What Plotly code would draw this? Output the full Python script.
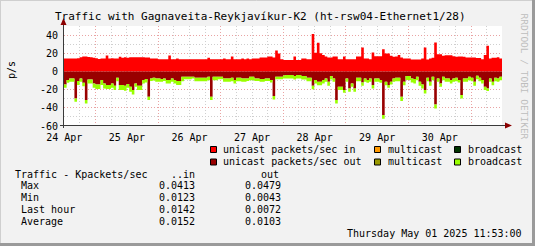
import plotly.graph_objects as go
import pandas as pd

# ---------------- data (hourly, packets/sec) ----------------
START = "2025-04-24 11:53"
END = "2025-05-01 11:53"

unicast_in = [
    14.3, 14.3, 14.3, 14.3, 14.3, 14.5, 15.5, 16.5, 16.5, 16.0,
    15.5, 15.2, 14.5, 13.8, 14.3, 14.3, 17.5, 14.3, 14.5, 14.3,
    14.3, 16.3, 15.0, 15.7, 15.0, 15.5, 15.5, 15.5, 15.7, 15.5,
    15.5, 15.3, 15.3, 14.3, 14.3, 14.3, 13.3, 13.3, 13.3, 13.3,
    17.5, 13.3, 13.5, 14.3, 13.5, 13.5, 13.5, 13.5, 13.5, 13.5,
    13.5, 13.5, 13.5, 13.5, 13.5, 15.0, 13.5, 13.5, 13.5, 13.5,
    13.5, 14.3, 13.5, 13.5, 16.5, 13.5, 13.5, 13.5, 14.3, 13.5,
    14.3, 13.5, 14.3, 14.3, 14.3, 15.4, 15.4, 15.4, 16.5, 16.5,
    15.4, 23.0, 19.8, 13.5, 12.5, 12.5, 12.5, 12.5, 16.5, 12.5,
    12.5, 14.3, 14.3, 13.5, 13.5, 41.3, 20.5, 31.5, 20.0, 18.0,
    16.5, 15.4, 15.4, 16.5, 16.5, 13.5, 13.5, 16.5, 13.5, 13.5,
    13.5, 13.5, 16.5, 16.5, 26.4, 14.3, 14.3, 13.5, 20.9, 16.8,
    16.8, 16.8, 24.5, 19.8, 19.8, 17.2, 16.1, 16.5, 18.0, 15.4,
    14.3, 14.3, 14.3, 13.2, 13.2, 13.2, 13.2, 14.3, 26.4, 13.2,
    14.3, 15.0, 31.9, 19.0, 19.0, 17.2, 17.9, 17.9, 17.9, 16.8,
    16.1, 16.5, 16.5, 16.1, 15.4, 15.4, 15.4, 15.4, 14.7, 14.7,
    13.5, 18.0, 28.2, 14.3, 15.0, 15.0, 15.7, 14.3,
]

unicast_out = [
    14.3, 9.5, 7.7, 7.7, 29.7, 10.6, 7.7, 12.5, 31.5, 8.8,
    8.8, 13.2, 14.3, 14.3, 9.5, 13.2, 15.0, 15.0, 13.2, 15.7,
    7.0, 15.0, 15.0, 15.7, 13.9, 16.8, 20.5, 13.2, 15.7, 15.7,
    9.5, 8.4, 27.8, 7.7, 7.0, 7.7, 7.7, 8.4, 7.7, 9.5,
    9.5, 7.7, 9.5, 10.6, 10.6, 5.9, 5.9, 5.9, 5.9, 5.9,
    7.0, 7.0, 7.0, 7.0, 7.0, 5.9, 27.8, 5.9, 5.9, 5.9,
    5.9, 7.7, 7.7, 7.7, 7.0, 9.5, 7.0, 7.0, 7.7, 7.7,
    7.7, 5.9, 5.9, 7.7, 7.7, 8.4, 8.4, 7.7, 7.7, 9.5,
    27.1, 5.9, 5.9, 5.9, 4.4, 4.0, 4.0, 4.0, 5.1, 4.0,
    4.0, 5.1, 5.1, 7.0, 7.0, 15.8, 9.5, 11.4, 11.4, 9.5,
    7.7, 11.4, 5.1, 7.7, 31.5, 16.8, 16.8, 20.5, 7.7, 18.7,
    13.2, 18.7, 7.0, 7.0, 12.1, 7.7, 9.5, 7.7, 15.0, 7.7,
    7.7, 9.5, 48.0, 11.4, 15.0, 11.4, 7.7, 7.0, 7.0, 27.8,
    11.4, 5.1, 5.1, 7.7, 8.4, 5.9, 11.4, 14.3, 20.5, 7.0,
    11.4, 5.9, 36.3, 7.7, 13.2, 5.9, 7.7, 7.7, 9.5, 7.7,
    7.0, 9.5, 26.0, 7.7, 7.7, 5.9, 7.0, 11.4, 4.8, 7.0,
    9.5, 16.8, 18.7, 7.7, 11.4, 7.0, 7.7, 5.9,
]

broadcast_out = [
    3.7, 2.9, 3.7, 3.7, 3.7, 4.4, 3.7, 3.7, 3.7, 4.4,
    4.4, 4.8, 5.1, 5.1, 5.5, 5.5, 4.4, 4.4, 4.8, 4.8,
    3.7, 5.5, 5.5, 5.5, 4.0, 5.5, 4.8, 3.7, 4.8, 4.8,
    3.7, 3.7, 3.7, 2.9, 2.9, 3.7, 3.7, 2.9, 2.9, 3.7,
    3.7, 3.7, 3.7, 4.4, 4.4, 4.8, 2.6, 2.6, 2.6, 1.8,
    3.7, 3.7, 3.7, 3.7, 3.7, 3.7, 3.7, 3.7, 3.7, 2.6,
    2.6, 3.7, 3.7, 3.7, 3.7, 3.7, 3.7, 3.7, 3.7, 3.7,
    2.9, 3.7, 3.7, 2.9, 2.9, 2.9, 2.9, 2.9, 2.9, 2.6,
    3.7, 2.6, 2.6, 2.6, 3.3, 3.7, 3.7, 3.7, 3.7, 3.7,
    3.7, 3.7, 3.7, 3.7, 3.7, 3.7, 3.7, 3.7, 3.7, 3.7,
    3.7, 4.4, 3.7, 3.7, 3.7, 3.7, 3.7, 2.9, 3.7, 3.7,
    3.7, 3.7, 3.7, 3.7, 3.7, 3.7, 2.9, 3.7, 3.7, 3.7,
    3.7, 2.9, 4.0, 3.7, 2.9, 2.9, 3.7, 3.7, 3.7, 4.8,
    3.7, 4.4, 4.4, 4.4, 4.8, 3.7, 4.4, 4.4, 3.7, 3.7,
    4.4, 3.7, 4.4, 3.7, 3.7, 3.7, 3.7, 3.7, 3.7, 3.7,
    3.7, 2.6, 3.7, 3.7, 3.7, 3.7, 3.7, 4.4, 3.7, 3.7,
    3.7, 3.7, 2.9, 3.7, 3.7, 3.7, 3.7, 3.7,
]

y_ticks = [-60, -40, -20, 0, 20, 40]
x_tick_days = ["2025-04-24", "2025-04-25", "2025-04-26", "2025-04-27",
               "2025-04-28", "2025-04-29", "2025-04-30"]
x_tick_labels = ["24 Apr", "25 Apr", "26 Apr", "27 Apr", "28 Apr", "29 Apr", "30 Apr"]

legend_labels = ["unicast packets/sec in", "multicast", "broadcast",
                 "unicast packets/sec out", "multicast", "broadcast"]

stat_names = ["Max", "Min", "Last hour", "Average"]
stat_in = ["0.0413", "0.0123", "0.0142", "0.0152"]
stat_out = ["0.0479", "0.0043", "0.0072", "0.0103"]

TITLE = "Traffic with Gagnaveita-Reykjavíkur-K2 (ht-rsw04-Ethernet1/28)"
STAMP = "Thursday May 01 2025 11:53:00"

# ---------------- styles ----------------
FONT = "DejaVu Sans Mono"
C_UI, C_MI, C_BI = "#FF0000", "#FF9900", "#003300"
C_UO, C_MO, C_BO = "#990000", "#999900", "#99FF00"
legend_colors = [C_UI, C_MI, C_BI, C_UO, C_MO, C_BO]

W, H = 535, 246
L, R, T, B = 64, 33, 26, 120
PW, PH = W - L - R, H - T - B


def px(x):
    return (x - L) / PW


def py(y):
    return (T + PH - y) / PH


times = pd.date_range(START, periods=len(unicast_in) + 1, freq="h")
label_times = [pd.Timestamp(d) + pd.Timedelta(hours=12) for d in x_tick_days]


def ext(v):
    return list(v) + [v[-1]]


fig = go.Figure()
fig.add_trace(go.Scatter(x=times, y=ext(unicast_in), stackgroup="in", mode="lines",
                         line=dict(width=0, shape="hv"), fillcolor=C_UI, hoverinfo="skip"))
fig.add_trace(go.Scatter(x=times, y=[-v for v in ext(unicast_out)], stackgroup="out", mode="lines",
                         line=dict(width=0, shape="hv"), fillcolor=C_UO, hoverinfo="skip"))
fig.add_trace(go.Scatter(x=times, y=[-v for v in ext(broadcast_out)], stackgroup="out", mode="lines",
                         line=dict(width=0, shape="hv"), fillcolor=C_BO, hoverinfo="skip"))
# carrier trace for the label axis
fig.add_trace(go.Scatter(x=[times[0]], y=[None], xaxis="x2", mode="lines",
                         hoverinfo="skip", showlegend=False))

MAJ = "#E9A3A3"
MIN = "#CFCFCF"
fig.update_layout(
    width=W, height=H,
    margin=dict(l=L, r=R, t=T, b=B, pad=0),
    paper_bgcolor="#F2F2F2", plot_bgcolor="#FFFFFF",
    showlegend=False,
    font=dict(family=FONT, size=10, color="#000000"),
    xaxis=dict(
        type="date", range=[START, END],
        dtick=86400000, tick0="2025-04-24 00:00",
        showgrid=True, gridcolor=MAJ, griddash="1px,2px", gridwidth=1,
        ticks="", showline=False, zeroline=False, showticklabels=False,
        minor=dict(dtick=21600000, tick0="2025-04-24 00:00", showgrid=True,
                   gridcolor=MIN, griddash="1px,2px", gridwidth=1),
    ),
    xaxis2=dict(
        type="date", range=[START, END], overlaying="x", anchor="y", side="bottom",
        tickmode="array", tickvals=label_times, ticktext=x_tick_labels,
        showgrid=False, ticks="", showline=False, zeroline=False,
        ticklabelstandoff=4,
        tickfont=dict(family=FONT, size=10, color="#000"),
    ),
    yaxis=dict(
        range=[-60, 50], tickmode="array", tickvals=y_ticks, ticktext=[str(v) for v in y_ticks],
        showgrid=True, gridcolor=MAJ, griddash="1px,2px", gridwidth=1,
        ticks="", showline=False, zeroline=False, ticklabelstandoff=5,
        tickfont=dict(family=FONT, size=10, color="#000"),
        minor=dict(dtick=10, tick0=0, showgrid=True, gridcolor=MIN, griddash="1px,2px", gridwidth=1),
    ),
)


def txt(s, x, y, anchor="left", size=10, color="#000000", angle=0):
    fig.add_annotation(text=s, x=px(x), y=py(y), xref="paper", yref="paper",
                       xanchor=anchor, yanchor="middle", showarrow=False,
                       font=dict(family=FONT, size=size, color=color),
                       textangle=angle, borderpad=0, borderwidth=0)


def shp(**kw):
    fig.add_shape(xref="paper", yref="paper", **kw)


# frame of the image
shp(type="line", x0=px(0.5), x1=px(0.5), y0=py(0), y1=py(246), line=dict(color="#CFCFCF", width=1))
shp(type="line", x0=px(0), x1=px(535), y0=py(0.5), y1=py(0.5), line=dict(color="#CFCFCF", width=1))
shp(type="line", x0=px(533.5), x1=px(533.5), y0=py(0), y1=py(246), line=dict(color="#9A9A9A", width=3))
shp(type="line", x0=px(0), x1=px(535), y0=py(244.5), y1=py(244.5), line=dict(color="#9A9A9A", width=3))

# axes with arrows
shp(type="line", x0=px(63.5), x1=px(63.5), y0=py(128), y1=py(24), line=dict(color="#3A3A3A", width=1))
shp(type="line", x0=px(60), x1=px(506), y0=py(125.5), y1=py(125.5), line=dict(color="#3A3A3A", width=1))
shp(type="path",
    path=f"M {px(60.5)},{py(25)} L {px(66.5)},{py(25)} L {px(63.5)},{py(18)} Z",
    fillcolor="#8B0000", line=dict(width=0))
shp(type="path",
    path=f"M {px(505)},{py(122.5)} L {px(505)},{py(128.5)} L {px(512)},{py(125.5)} Z",
    fillcolor="#8B0000", line=dict(width=0))

# texts
txt(TITLE, 260.5, 17, anchor="center", size=11)
txt("p/s", 11.5, 70.5, anchor="center", angle=-90)
txt("RRDTOOL / TOBI OETIKER", 524.5, 76, anchor="center", size=9.5, color="#BDBDBD", angle=90)

# legend
col_box = [210.5, 374.5, 454.5]
col_txt = [223.3, 387.7, 467.7]
row_y = [149.5, 162.0]
for i, (lab, col) in enumerate(zip(legend_labels, legend_colors)):
    r, c = divmod(i, 3)
    yc = row_y[r]
    shp(type="rect", x0=px(col_box[c]), x1=px(col_box[c] + 6), y0=py(yc - 3), y1=py(yc + 3),
        fillcolor=col, line=dict(color="#000000", width=1))
    txt(lab, col_txt[c], yc - 0.5)

# statistics table
txt("Traffic - Kpackets/sec", 15, 174)
txt("..in", 194.5, 174, anchor="right")
txt("out", 260.7, 174)
for k, (nm, vi, vo) in enumerate(zip(stat_names, stat_in, stat_out)):
    yy = 185.7 + 12 * k
    txt(nm, 20.7, yy)
    txt(vi, 194.5, yy, anchor="right")
    txt(vo, 281.2, yy, anchor="right")

txt(STAMP, 521.8, 233.3, anchor="right")

fig.write_html("out.html")
